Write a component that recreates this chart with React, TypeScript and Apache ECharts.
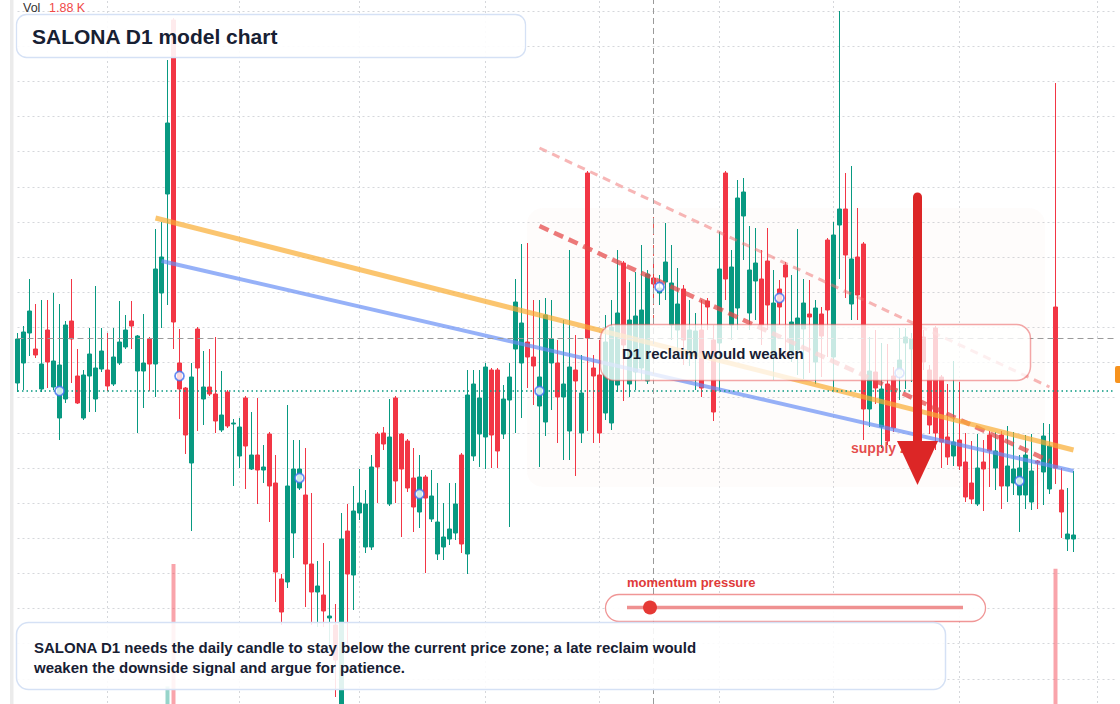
import React, { useEffect, useRef } from "react";
import * as echarts from "echarts";

// ---- data (price units) ----
const opens = [
  33.1, 35.1, 38.1, 36.5, 32.5, 38.4, 32.7, 29.6, 31.5, 39.3,
  33.8, 29.6, 33.8, 31.5, 34.5, 34.4, 33.0, 35.1, 36.7, 39.3,
  34.3, 34.3, 37.5, 35.0, 42.1, 52.0, 69.4, 35.1, 32.6, 25.1,
  38.5, 31.5, 32.7, 32.0, 28.4, 32.2, 29.0, 25.8, 31.6, 24.5,
  25.9, 24.4, 28.0, 23.1, 13.5, 13.2, 18.1, 22.6, 21.9, 15.0,
  12.2, 11.9, 9.6, 8.9, 0.4, 18.3, 13.9, 20.1, 16.7, 16.7,
  28.0, 28.1, 21.0, 31.6, 28.0, 27.3, 23.6, 20.2, 23.7, 19.5,
  16.0, 16.7, 17.5, 18.1, 25.9, 16.0, 25.8, 28.0, 27.7, 34.4,
  34.4, 28.0, 31.4, 36.5, 35.1, 37.2, 35.7, 30.8, 29.2, 35.1,
  35.1, 31.7, 28.3, 34.4, 28.1, 54.1, 34.6, 33.9, 30.1, 29.1,
  32.9, 45.1, 33.0, 34.2, 34.6, 33.3, 43.6, 42.1, 43.2, 38.9,
  38.4, 42.5, 36.2, 35.8, 38.4, 41.3, 37.4, 37.1, 54.1, 38.9,
  40.6, 49.8, 40.1, 43.3, 43.5, 45.3, 35.9, 42.5, 44.9, 36.2,
  36.4, 38.5, 40.0, 35.2, 40.0, 47.4, 35.7, 48.9, 50.5, 41.0,
  45.7, 47.0, 30.5, 34.2, 28.7, 33.0, 33.8, 33.9, 37.1, 36.5,
  37.8, 37.7, 34.4, 38.6, 33.7, 27.7, 25.8, 27.4, 25.2, 23.1,
  21.0, 25.2, 27.9, 24.6, 27.9, 22.8, 23.1, 21.9, 21.9, 21.2,
  25.3, 24.2, 22.5, 40.7, 22.4, 17.5, 17.5,
];
const closes = [
  37.5, 38.2, 40.3, 35.9, 35.0, 35.2, 35.3, 34.9, 38.9, 37.5,
  31.1, 33.9, 36.0, 34.6, 36.3, 32.8, 35.7, 37.2, 38.4, 38.8,
  37.8, 35.1, 35.0, 44.5, 45.7, 59.1, 39.2, 32.5, 27.9, 33.7,
  34.6, 32.7, 32.0, 29.3, 29.9, 28.8, 29.1, 28.7, 26.8, 25.9,
  24.4, 24.7, 22.8, 14.2, 10.2, 22.8, 24.5, 24.5, 15.0, 12.2,
  12.8, 10.3, 9.8, 5.4, 17.5, 14.0, 20.3, 21.1, 21.0, 24.7,
  24.7, 27.0, 27.7, 23.3, 24.5, 22.6, 20.7, 23.7, 21.6, 21.8,
  19.2, 17.7, 18.5, 21.0, 17.0, 31.9, 33.0, 31.6, 34.7, 27.9,
  26.3, 31.5, 33.7, 41.2, 39.1, 35.7, 34.8, 33.7, 39.9, 37.5,
  31.7, 33.0, 34.7, 33.3, 32.1, 37.6, 33.8, 28.1, 37.2, 38.7,
  40.1, 36.9, 39.4, 39.8, 40.4, 44.0, 43.0, 42.6, 45.2, 43.1,
  41.0, 37.4, 38.4, 38.3, 32.6, 40.7, 30.2, 44.5, 43.5, 44.7,
  51.6, 52.2, 44.4, 45.1, 38.9, 40.9, 41.1, 40.7, 43.7, 39.2,
  39.6, 41.1, 39.7, 40.6, 37.8, 40.4, 47.9, 50.5, 45.9, 45.5,
  41.9, 30.5, 34.3, 32.6, 32.5, 27.3, 28.6, 35.4, 37.7, 37.5,
  35.3, 35.2, 28.9, 28.1, 27.2, 25.7, 27.2, 24.8, 21.7, 21.5,
  24.6, 24.5, 26.3, 26.3, 22.8, 24.8, 24.5, 24.6, 25.9, 24.3,
  25.1, 27.8, 26.8, 24.6, 20.2, 18.0, 17.9,
];
const lows = [
  32.2, 32.4, 35.8, 35.6, 32.2, 32.6, 32.4, 27.4, 31.1, 33.1,
  31.0, 29.4, 30.2, 30.2, 34.2, 32.3, 32.8, 34.9, 36.5, 36.5,
  28.1, 30.6, 32.3, 31.7, 38.6, 40.9, 36.5, 29.5, 26.0, 18.3,
  28.3, 28.9, 31.8, 28.1, 28.2, 28.6, 22.8, 24.6, 22.5, 24.4,
  21.0, 23.1, 19.2, 11.2, 8.9, 12.6, 15.6, 22.4, 10.7, 8.9,
  8.7, 8.7, 6.4, 1.7, 0.1, 7.0, 10.4, 19.4, 16.1, 16.4,
  21.1, 26.4, 20.8, 21.1, 17.7, 22.2, 18.2, 18.6, 14.1, 19.2,
  15.4, 15.4, 16.9, 17.4, 16.1, 14.0, 25.3, 24.7, 24.5, 24.6,
  24.6, 27.5, 18.7, 28.1, 29.6, 32.6, 30.9, 24.7, 27.8, 30.4,
  27.1, 25.4, 25.4, 23.8, 27.1, 28.3, 27.1, 27.1, 29.4, 28.4,
  32.2, 31.3, 31.7, 32.4, 33.4, 33.0, 41.4, 40.9, 41.4, 37.4,
  35.9, 34.9, 34.8, 32.4, 31.7, 38.4, 29.3, 32.4, 41.4, 37.4,
  38.4, 45.4, 38.4, 39.4, 36.9, 38.4, 33.4, 38.9, 35.7, 35.2,
  33.9, 33.5, 34.1, 33.0, 33.7, 35.7, 32.3, 43.5, 41.6, 39.4,
  39.4, 27.4, 28.7, 31.0, 26.6, 26.9, 28.2, 31.4, 32.5, 33.2,
  34.9, 34.4, 28.0, 26.4, 24.6, 24.9, 24.8, 24.4, 21.2, 21.0,
  20.8, 20.3, 22.7, 22.4, 20.5, 21.2, 21.9, 18.2, 20.5, 20.4,
  20.5, 20.9, 22.0, 23.0, 17.6, 16.3, 16.2,
];
const highs = [
  38.1, 38.8, 43.5, 41.0, 41.4, 41.4, 42.1, 41.0, 39.3, 43.5,
  36.5, 34.4, 38.6, 42.8, 38.6, 38.1, 38.6, 41.3, 39.9, 41.3,
  37.9, 40.0, 37.7, 48.5, 49.2, 65.4, 69.6, 38.5, 32.7, 35.1,
  38.7, 36.3, 36.5, 37.7, 34.3, 32.4, 29.5, 29.6, 31.8, 30.2,
  31.6, 26.9, 28.2, 25.9, 14.0, 30.9, 27.4, 27.4, 26.6, 22.1,
  15.3, 17.1, 15.3, 11.0, 20.1, 21.0, 22.8, 24.5, 22.4, 25.9,
  28.2, 28.7, 31.5, 31.8, 28.1, 27.5, 26.6, 25.9, 23.9, 24.4,
  23.1, 21.1, 23.1, 23.1, 26.1, 34.4, 34.4, 34.4, 35.1, 34.6,
  34.6, 32.9, 35.1, 43.5, 47.0, 47.1, 41.4, 41.4, 41.6, 41.4,
  37.4, 39.4, 46.4, 37.9, 35.9, 54.3, 35.9, 37.4, 39.9, 41.4,
  46.4, 45.3, 43.2, 44.2, 46.9, 44.4, 45.4, 43.9, 49.1, 46.9,
  44.6, 42.9, 41.4, 40.1, 41.4, 41.6, 38.9, 48.2, 54.3, 46.4,
  53.4, 53.6, 48.8, 48.6, 46.4, 48.6, 44.4, 43.4, 45.2, 43.9,
  48.5, 43.5, 43.4, 41.4, 40.7, 47.6, 49.2, 70.3, 54.1, 54.8,
  50.6, 47.2, 37.7, 38.4, 37.1, 37.0, 34.7, 38.6, 38.6, 38.1,
  38.4, 38.4, 34.9, 38.8, 33.9, 33.0, 35.3, 33.2, 28.1, 27.3,
  28.0, 27.4, 28.3, 28.2, 28.3, 28.8, 28.2, 25.9, 27.9, 28.0,
  25.4, 29.1, 29.0, 63.1, 24.6, 22.6, 24.3,
];

// volume (thousands): only the bars that rise into view
const volIdx = [25, 26, 173, 176];
const volVal = [4.9, 10.0, 9.8, 1.88];

// blue model markers every 20 bars
const markerIdx = [7, 27, 47, 67, 87, 107, 127, 147, 167];
const markerVal = [32.3, 33.8, 23.6, 22.0, 32.3, 42.7, 41.6, 34.1, 23.3];

// trend / channel lines: [barIndex, price]
const orangeLine = [[23, 49.6], [176, 26.4]];
const blueLine = [[24, 45.3], [176, 24.3]];
const supplyUpper = [[87, 56.6], [172, 32.7]];
const supplyLower = [[87, 48.8], [172, 25.3]];
const reclaimMark = [[106, 49.7], [106, 39.1]];

const crossIdx = 106;
const crossPrice = 37.6;
const lastPriceLevel = 32.3;

// month boundaries (bar indices) used for the vertical grid
const monthStartIdx = [15, 37, 57, 78, 97, 117, 136, 157, 180];
const EXTRA_SLOTS = 7;

const GREEN = "#089981";
const RED = "#f23645";
const FONT = '"Liberation Sans", Arial, sans-serif';
const OY = 24; // the chart canvas starts 24px above the page top

function buildDates(start: string, count: number): string[] {
  const out: string[] = [];
  const d = new Date(start + "T00:00:00Z");
  while (out.length < count) {
    const wd = d.getUTCDay();
    if (wd !== 0 && wd !== 6) out.push(d.toISOString().slice(0, 10));
    d.setUTCDate(d.getUTCDate() + 1);
  }
  return out;
}
const dates = buildDates("2024-01-02", opens.length + EXTRA_SLOTS);

export default function App() {
  const ref = useRef<HTMLDivElement>(null);
  useEffect(() => {
    if (!ref.current) return;
    const chart = echarts.init(ref.current, undefined, { renderer: "svg" });

    const candleData = opens.map((o, i) => [o, closes[i], lows[i], highs[i]]);
    const volumeData: any[] = dates.map(() => "-");
    volIdx.forEach((idx, k) => {
      const up = closes[idx] >= opens[idx];
      volumeData[idx] = {
        value: volVal[k],
        itemStyle: { color: up ? "rgba(8,153,129,0.42)" : "rgba(242,54,69,0.45)" },
      };
    });
    const toPts = (arr: number[][]) => arr.map(([i, v]) => [dates[i], v]);
    const gridDots = { color: "#d5d7db", type: [2, 3] as any, width: 1 };

    const Z = 100;
    chart.setOption({
      animation: false,
      backgroundColor: "#ffffff",
      grid: [
        { left: 17.5, right: 4.5, top: 0, bottom: 102 },
        { left: 17.5, right: 4.5, top: 504, bottom: 12 },
      ],
      xAxis: [
        {
          type: "category",
          data: dates,
          gridIndex: 0,
          boundaryGap: false,
          axisLine: { show: false },
          axisTick: { show: false },
          axisLabel: { show: false },
          splitLine: {
            show: true,
            interval: (index: number) => monthStartIdx.includes(index),
            lineStyle: gridDots,
          },
        },
        { type: "category", data: dates, gridIndex: 1, boundaryGap: false, show: false },
      ],
      yAxis: [
        {
          type: "value",
          gridIndex: 0,
          min: 0,
          max: 73.8,
          interval: 3.515,
          axisLine: { show: false },
          axisTick: { show: false },
          axisLabel: { show: false },
          splitLine: { show: true, lineStyle: gridDots },
        },
        { type: "value", gridIndex: 1, min: 0, max: 13.5, show: false, splitLine: { show: false } },
      ],
      series: [
        {
          type: "bar",
          xAxisIndex: 1,
          yAxisIndex: 1,
          data: volumeData,
          barWidth: 4,
          silent: true,
          z: 1,
        },
        {
          type: "candlestick",
          xAxisIndex: 0,
          yAxisIndex: 0,
          data: candleData,
          barWidth: 4,
          z: 2,
          itemStyle: {
            color: GREEN,
            color0: RED,
            borderColor: GREEN,
            borderColor0: RED,
            borderWidth: 1,
          },
          markLine: {
            silent: true,
            symbol: ["none", "none"],
            label: { show: false },
            data: [
              { yAxis: crossPrice, lineStyle: { color: "#9a9a9a", type: [6, 4], width: 1 } },
              { yAxis: lastPriceLevel, lineStyle: { color: GREEN, type: [1.5, 3], width: 1.5 } },
              { xAxis: dates[crossIdx], lineStyle: { color: "#9a9a9a", type: [6, 4], width: 1 } },
            ],
          },
        },
        {
          type: "line",
          data: toPts(reclaimMark),
          symbol: "none",
          silent: true,
          z: 3,
          lineStyle: { color: "rgba(229,57,53,0.85)", width: 1, type: [4, 3] },
        },
        {
          type: "line",
          data: toPts(supplyUpper),
          symbol: "none",
          silent: true,
          z: 3,
          lineStyle: { color: "rgba(240,110,110,0.5)", width: 3, type: [8, 6] },
        },
        {
          type: "line",
          data: toPts(supplyLower),
          symbol: "none",
          silent: true,
          z: 3,
          lineStyle: { color: "rgba(228,70,70,0.72)", width: 4.5, type: [10, 6] },
        },
        {
          type: "line",
          data: toPts(orangeLine),
          symbol: "none",
          silent: true,
          z: 4,
          lineStyle: { color: "rgba(250,172,50,0.7)", width: 5 },
        },
        {
          type: "line",
          data: toPts(blueLine),
          symbol: "none",
          silent: true,
          z: 4,
          lineStyle: { color: "rgba(100,140,245,0.68)", width: 4 },
        },
        {
          type: "scatter",
          data: markerIdx.map((idx, k) => [dates[idx], markerVal[k]]),
          symbol: "circle",
          symbolSize: 9,
          silent: true,
          z: 5,
          itemStyle: { color: "#ffffff", borderColor: "#3f6ff0", borderWidth: 1.7 },
        },
      ],
      graphic: [
        { type: "rect", z: 1, silent: true, shape: { x: 10, y: 0, width: 3.5, height: 840 }, style: { fill: "#ebebeb" } },
        {
          type: "rect",
          z: 1,
          silent: true,
          shape: { x: 527, y: 208 + OY, width: 518, height: 279, r: 16 },
          style: { fill: "rgba(236,170,130,0.035)" },
        },
        { type: "text", z: Z, x: 23, y: 8 + OY, style: { text: "Vol", fill: "#333333", font: `12.5px ${FONT}`, verticalAlign: "middle" } },
        { type: "text", z: Z, x: 49, y: 8 + OY, style: { text: "1.88 K", fill: "#f04a4a", font: `12.5px ${FONT}`, verticalAlign: "middle" } },
        {
          type: "rect",
          z: Z,
          shape: { x: 16.5, y: 14.5 + OY, width: 509, height: 43, r: 10 },
          style: { fill: "rgba(255,255,255,0.9)", stroke: "#d5e1f5", lineWidth: 1.3 },
        },
        {
          type: "text",
          z: Z,
          x: 32,
          y: 36 + OY,
          style: { text: "SALONA D1 model chart", fill: "#172033", font: `bold 21px ${FONT}`, verticalAlign: "middle" },
        },
        {
          type: "rect",
          z: Z,
          shape: { x: 600.5, y: 324.5 + OY, width: 430, height: 56, r: 14 },
          style: { fill: "rgba(255,255,255,0.78)", stroke: "rgba(232,80,80,0.5)", lineWidth: 1.5 },
        },
        {
          type: "text",
          z: Z,
          x: 622,
          y: 353 + OY,
          style: { text: "D1 reclaim would weaken", fill: "#172033", font: `bold 15px ${FONT}`, verticalAlign: "middle" },
        },
        {
          type: "text",
          z: Z,
          x: 851,
          y: 448 + OY,
          style: { text: "supply zone", fill: "rgba(224,45,45,0.85)", font: `bold 14px ${FONT}`, verticalAlign: "middle" },
        },
        {
          type: "line",
          z: Z + 1,
          shape: { x1: 917.5, y1: 197 + OY, x2: 917.5, y2: 450 + OY },
          style: { stroke: "#dc2626", lineWidth: 9, lineCap: "round" },
        },
        {
          type: "polygon",
          z: Z + 1,
          shape: { points: [[897, 441 + OY], [938, 441 + OY], [917.5, 485 + OY]] },
          style: { fill: "#dc2626" },
        },
        {
          type: "text",
          z: Z,
          x: 627,
          y: 582 + OY,
          style: { text: "momentum pressure", fill: "#e03a3a", font: `bold 13px ${FONT}`, verticalAlign: "middle" },
        },
        {
          type: "rect",
          z: Z,
          shape: { x: 605.5, y: 594.5 + OY, width: 380, height: 27, r: 13.5 },
          style: { fill: "rgba(255,255,255,0.92)", stroke: "rgba(230,80,80,0.6)", lineWidth: 1.3 },
        },
        {
          type: "line",
          z: Z + 1,
          shape: { x1: 627, y1: 607.5 + OY, x2: 963, y2: 607.5 + OY },
          style: { stroke: "rgba(229,72,72,0.6)", lineWidth: 3.5 },
        },
        {
          type: "circle",
          z: Z + 2,
          shape: { cx: 650, cy: 607.5 + OY, r: 7 },
          style: { fill: "#e53935" },
        },
        {
          type: "rect",
          z: Z,
          shape: { x: 16.5, y: 622.5 + OY, width: 929, height: 67, r: 12 },
          style: { fill: "rgba(255,255,255,0.88)", stroke: "#d5e1f5", lineWidth: 1.5 },
        },
        {
          type: "text",
          z: Z,
          x: 34,
          y: 647 + OY,
          style: {
            text: "SALONA D1 needs the daily candle to stay below the current price zone; a late reclaim would",
            fill: "#172033",
            font: `bold 15px ${FONT}`,
            verticalAlign: "middle",
          },
        },
        {
          type: "text",
          z: Z,
          x: 34,
          y: 667 + OY,
          style: {
            text: "weaken the downside signal and argue for patience.",
            fill: "#172033",
            font: `bold 15px ${FONT}`,
            verticalAlign: "middle",
          },
        },
        {
          type: "rect",
          z: Z,
          shape: { x: 1115, y: 366 + OY, width: 10, height: 17, r: 2 },
          style: { fill: "#f7931e" },
        },
      ],
    });
    return () => chart.dispose();
  }, []);

  return (
    <div
      ref={ref}
      style={{ position: "fixed", left: 0, top: -OY, width: 1120, height: 840, background: "#ffffff" }}
    />
  );
}
